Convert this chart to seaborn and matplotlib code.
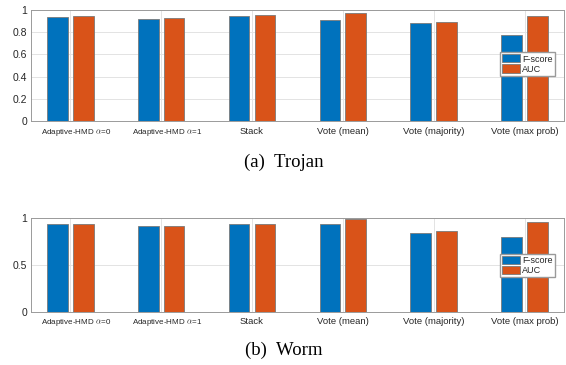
import matplotlib
matplotlib.use("Agg")
import matplotlib.pyplot as plt
import matplotlib.transforms as mtransforms
import pandas as pd
import seaborn as sns

METHODS = [
    r"Adaptive-HMD $\alpha$=0",
    r"Adaptive-HMD $\alpha$=1",
    "Stack",
    "Vote (mean)",
    "Vote (majority)",
    "Vote (max prob)",
]
METRICS = ["F-score", "AUC"]

TROJAN_FSCORE = [0.937, 0.919, 0.946, 0.910, 0.878, 0.775]
TROJAN_AUC = [0.946, 0.923, 0.955, 0.973, 0.887, 0.946]
WORM_FSCORE = [0.940, 0.915, 0.937, 0.937, 0.840, 0.797]
WORM_AUC = [0.943, 0.915, 0.937, 0.990, 0.865, 0.960]

TROJAN_YTICKS = [0, 0.2, 0.4, 0.6, 0.8, 1]
WORM_YTICKS = [0, 0.5, 1]

PALETTE = {"F-score": "#0072BD", "AUC": "#D95319"}


def long_frame(fscore, auc):
    rows = []
    for method, f, a in zip(METHODS, fscore, auc):
        rows.append({"method": method, "metric": "F-score", "value": f})
        rows.append({"method": method, "metric": "AUC", "value": a})
    return pd.DataFrame(rows)


def draw_panel(fig, ax, data, yticks):
    sns.barplot(
        data=data,
        x="method",
        y="value",
        hue="metric",
        hue_order=METRICS,
        order=METHODS,
        palette=PALETTE,
        width=0.57,
        gap=0.2,
        edgecolor="#7a7a7a",
        linewidth=0.6,
        saturation=1,
        errorbar=None,
        ax=ax,
    )
    ax.set_xlim(-0.43, len(METHODS) - 0.57)
    ax.set_ylim(0, 1)
    ax.set_yticks(yticks)
    ax.set_yticklabels([f"{t:g}" for t in yticks], fontsize=7.5, color="#262626")
    ax.set_xlabel("")
    ax.set_ylabel("")
    ax.set_axisbelow(True)
    ax.grid(True, color="#e3e3e3", linewidth=0.7)
    ax.tick_params(axis="both", direction="in", length=2.5, color="#8c8c8c", pad=3)
    ax.tick_params(axis="x", pad=4)
    # the Adaptive-HMD labels sit a little right of their tick in the original
    shift = mtransforms.ScaledTranslation(6 / 100, 0, fig.dpi_scale_trans)
    for lbl in ax.get_xticklabels():
        lbl.set_color("#262626")
        if "Adaptive" in lbl.get_text():
            lbl.set_fontsize(5.8)
            lbl.set_transform(lbl.get_transform() + shift)
        else:
            lbl.set_fontsize(6.8)
    for spine in ax.spines.values():
        spine.set_visible(True)
        spine.set_color("#9a9a9a")
        spine.set_linewidth(0.7)
    ax.legend(
        loc="upper left",
        bbox_to_anchor=(0.88, 0.62),
        fontsize=6.5,
        frameon=True,
        fancybox=False,
        edgecolor="#9a9a9a",
        framealpha=1,
        borderpad=0.25,
        handlelength=2.0,
        handleheight=1.0,
        handletextpad=0.2,
        labelspacing=0.1,
        borderaxespad=0,
    )


def main():
    sns.set_theme(style="white")
    plt.rcParams["font.family"] = ["Liberation Sans", "DejaVu Sans"]
    plt.rcParams["mathtext.fontset"] = "cm"

    fig = plt.figure(figsize=(5.66, 3.65), dpi=100)
    ax_top = fig.add_axes([0.055, 0.668, 0.941, 0.305])
    ax_bot = fig.add_axes([0.055, 0.146, 0.941, 0.256])

    draw_panel(fig, ax_top, long_frame(TROJAN_FSCORE, TROJAN_AUC), TROJAN_YTICKS)
    draw_panel(fig, ax_bot, long_frame(WORM_FSCORE, WORM_AUC), WORM_YTICKS)

    serif = ["Liberation Serif", "DejaVu Serif"]
    fig.text(0.502, 1 - 162 / 365, "(a)  Trojan", ha="center", va="center",
             fontsize=13.5, family=serif, color="black")
    fig.text(0.502, 1 - 350 / 365, "(b)  Worm", ha="center", va="center",
             fontsize=13.5, family=serif, color="black")

    fig.savefig("out.png", dpi=100, facecolor="white")
    plt.close(fig)


if __name__ == "__main__":
    main()
